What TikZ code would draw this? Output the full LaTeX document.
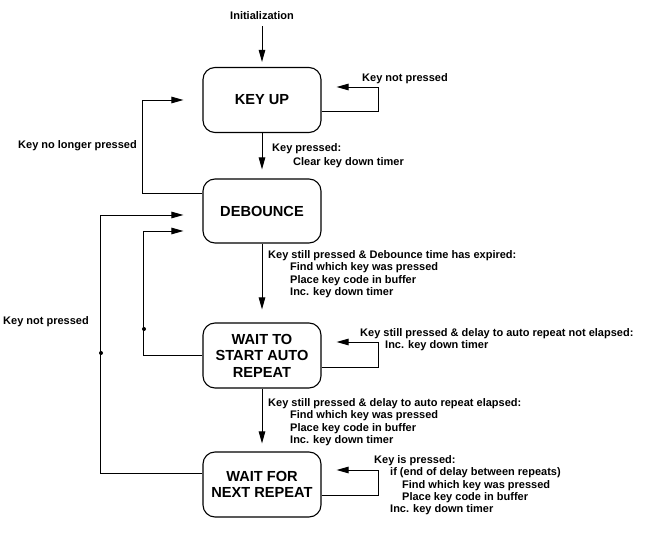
\documentclass[tikz,border=0pt]{standalone}
\usepackage{fontspec}
\setmainfont{Liberation Sans}
\usetikzlibrary{arrows.meta,calc}
\begin{document}
\begin{tikzpicture}[x=1pt,y=-1pt,
  state/.style={draw, rounded corners=12pt, minimum width=118pt, minimum height=65pt,
    align=center, inner sep=0pt, line width=1.1pt,
    font=\fontsize{14.6}{16.5}\selectfont\bfseries},
  lbl/.style={anchor=north west, align=left, inner sep=0pt,
    font=\fontsize{11}{12.3}\selectfont\bfseries},
  slbl/.style={anchor=base west, inner sep=0pt,
    font=\fontsize{11}{12.3}\selectfont\bfseries},
  arr/.style={-{Triangle[length=12pt,width=6.5pt]}, line width=0.9pt},
  dot/.style={circle, fill, inner sep=0pt, minimum size=4pt}
]
\useasboundingbox (0,0) rectangle (648,534);

% states
\node[state] (keyup)     at (262,100)   {KEY UP};
\node[state, minimum height=64pt] (debounce) at (262,211) {DEBOUNCE};
\node[state] (waitstart) at (262,355.5) {WAIT TO\\START AUTO\\REPEAT};
\node[state] (waitnext)  at (262,484.5) {WAIT FOR\\NEXT REPEAT};

% initialization
\node[slbl, anchor=base, inner sep=0pt] (init) at (262,20) {Initialization};
\draw[arr, shorten <=6pt, shorten >=5pt] (init.south) -- (keyup.north);

% downward transitions
\draw[arr, shorten >=9pt]  (keyup.south) -- (debounce.north);
\draw[arr, shorten >=13pt] (debounce.south) -- (waitstart.north);
\draw[arr, shorten >=8pt]  (waitstart.south) -- (waitnext.north);

% self loops on the right
\draw[arr, shorten >=15pt] ($(keyup.east)+(0,11)$) -| ++(57,-24) -- ($(keyup.east)+(0,-13)$);
\draw[arr, shorten >=15pt] ($(waitstart.east)+(0,11.5)$) -| ++(57,-25) -- ($(waitstart.east)+(0,-13.5)$);
\draw[arr, shorten >=15pt] ($(waitnext.east)+(0,10.5)$) -| ++(57,-25) -- ($(waitnext.east)+(0,-14.5)$);

% return loops on the left
\draw[arr, shorten >=19pt] ($(debounce.west)+(0,-18)$) -| ($(keyup.west)+(-60,0)$) -- (keyup.west);
\draw[arr, shorten >=19pt] (waitstart.west) -| ($(debounce.west)+(-59,20)$) -- ($(debounce.west)+(0,20)$);
\draw[arr, shorten >=19pt] ($(waitnext.west)+(0,-11.5)$) -| ($(debounce.west)+(-102,4)$) -- ($(debounce.west)+(0,4)$);
\node[dot] (j1) at (144,329) {};
\node[dot] (j2) at (101,353) {};

% labels
\node[slbl] (lnolonger) at (18,149) {Key no longer pressed};
\node[slbl] (lnotpressed) at (3,325) {Key not pressed};
\node[lbl] (lkeyupself) at (362,73.5) {Key not pressed};
\node[lbl] (lkeypressed) at (272,143.5) {Key pressed:\\[1.1pt]\hspace*{21pt}Clear key down timer};
\node[lbl] (ldeb) at (268,250.5) {Key still pressed \& Debounce time has expired:\\
  \hspace*{22pt}Find which key was pressed\\
  \hspace*{22pt}Place key code in buffer\\
  \hspace*{22pt}Inc. key down timer};
\node[lbl] (lwsself) at (360,328.5) {Key still pressed \& delay to auto repeat not elapsed:\\
  \hspace*{25pt}Inc. key down timer};
\node[lbl] (lws) at (268,398.5) {Key still pressed \& delay to auto repeat elapsed:\\
  \hspace*{22pt}Find which key was pressed\\
  \hspace*{22pt}Place key code in buffer\\
  \hspace*{22pt}Inc. key down timer};
\node[lbl] (lwnself) at (374,455.5) {Key is pressed:\\
  \hspace*{16pt}if (end of delay between repeats)\\
  \hspace*{28pt}Find which key was pressed\\
  \hspace*{28pt}Place key code in buffer\\
  \hspace*{16pt}Inc. key down timer};
\end{tikzpicture}
\end{document}
